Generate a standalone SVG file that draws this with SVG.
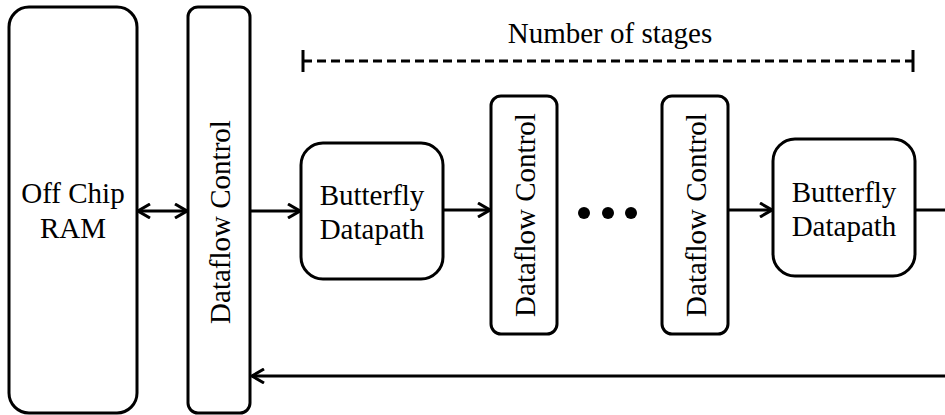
<svg xmlns="http://www.w3.org/2000/svg" width="945" height="415" viewBox="0 0 945 415" font-family="'Liberation Serif', 'Times New Roman', serif">
<style>
.box{fill:#fff;stroke:#000;stroke-width:3}
.ln{fill:none;stroke:#000;stroke-width:3}
.t{font-family:'Liberation Serif','Times New Roman',serif;font-size:29px;fill:#000}
</style>
<defs>
<marker id="ah" viewBox="0 0 14 16" refX="13" refY="8" markerWidth="14" markerHeight="16" markerUnits="userSpaceOnUse" orient="auto-start-reverse">
<path d="M1,1 L13,8 L1,15" fill="none" stroke="#000" stroke-width="3"/>
</marker>
</defs>
<rect width="945" height="415" fill="#fff"/>
<g id="ram">
<rect class="box" x="9" y="7" width="128" height="406" rx="20"/>
<text class="t" x="73" y="203" text-anchor="middle">Off Chip</text>
<text class="t" x="73" y="238" text-anchor="middle">RAM</text>
</g>
<g id="dc1">
<rect class="box" x="188" y="7" width="62" height="406" rx="10"/>
<text class="t" transform="translate(230,222) rotate(-90)" text-anchor="middle">Dataflow Control</text>
</g>
<g id="bf1">
<rect class="box" x="301" y="143" width="142" height="136" rx="22"/>
<text class="t" x="372" y="205" text-anchor="middle">Butterfly</text>
<text class="t" x="372" y="239" text-anchor="middle">Datapath</text>
</g>
<g id="dc2">
<rect class="box" x="491" y="96" width="66" height="238" rx="10"/>
<text class="t" transform="translate(535,215) rotate(-90)" text-anchor="middle">Dataflow Control</text>
</g>
<g id="dots">
<circle cx="584" cy="213" r="6"/>
<circle cx="608" cy="213" r="6"/>
<circle cx="631" cy="213" r="6"/>
</g>
<g id="dc3">
<rect class="box" x="662" y="96" width="66" height="238" rx="10"/>
<text class="t" transform="translate(706,215) rotate(-90)" text-anchor="middle">Dataflow Control</text>
</g>
<g id="bf2">
<rect class="box" x="773" y="139" width="142" height="137" rx="22"/>
<text class="t" x="844" y="202" text-anchor="middle">Butterfly</text>
<text class="t" x="844" y="236" text-anchor="middle">Datapath</text>
</g>
<g id="stages">
<text class="t" x="610" y="43" text-anchor="middle">Number of stages</text>
<line class="ln" x1="303" y1="61" x2="913" y2="61" stroke-dasharray="9 5"/>
<line class="ln" x1="303" y1="50" x2="303" y2="72"/>
<line class="ln" x1="913" y1="50" x2="913" y2="72"/>
</g>
<g id="connectors">
<line class="ln" x1="138" y1="211" x2="187" y2="211" marker-start="url(#ah)" marker-end="url(#ah)"/>
<line class="ln" x1="251" y1="211" x2="300" y2="211" marker-end="url(#ah)"/>
<line class="ln" x1="444" y1="210" x2="490" y2="210" marker-end="url(#ah)"/>
<line class="ln" x1="729" y1="210" x2="772" y2="210" marker-end="url(#ah)"/>
<line class="ln" x1="916" y1="210" x2="945" y2="210"/>
<line class="ln" x1="945" y1="376" x2="252" y2="376" marker-end="url(#ah)"/>
</g>
</svg>
